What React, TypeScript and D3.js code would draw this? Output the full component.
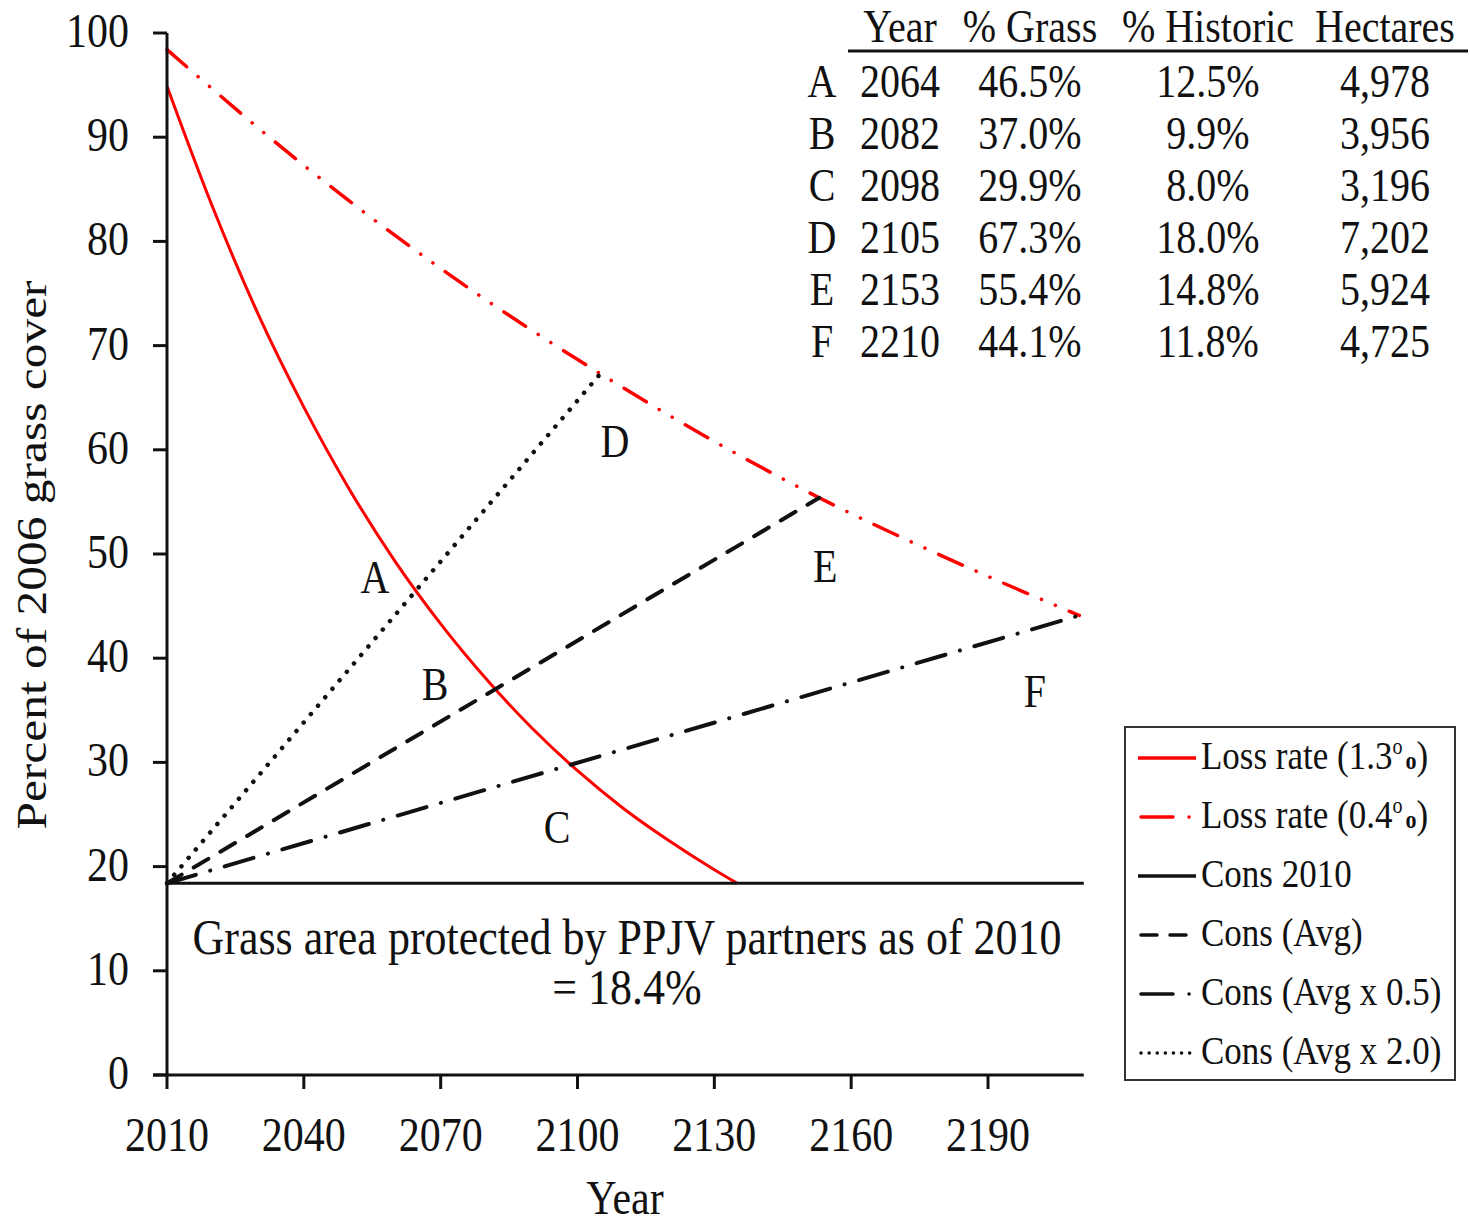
import * as d3 from 'd3'

// axis ticks
const xTicks = [2010, 2040, 2070, 2100, 2130, 2160, 2190]
const yTicks = [0, 10, 20, 30, 40, 50, 60, 70, 80, 90, 100]

// loss rate 1.3% per year
const fastYears = [2010, 2020, 2030, 2040, 2050, 2060, 2070, 2080, 2090, 2100, 2110, 2120, 2130, 2135]
const fastValues = [94.9, 83.3, 73.0, 64.1, 56.2, 49.3, 43.3, 38.0, 33.3, 29.2, 25.6, 22.5, 19.7, 18.4]

// loss rate 0.4% per year
const slowYears = [2010, 2040, 2070, 2105, 2130, 2153, 2180, 2210]
const slowValues = [98.4, 87.3, 77.4, 67.3, 60.8, 55.4, 49.8, 44.1]

// conservation lines start at the 2010 protected share
const consStartYear = 2010
const consBase = 18.4
const consEndYear = 2211
const consNames = ['Cons (Avg x 2.0)', 'Cons (Avg)', 'Cons (Avg x 0.5)']
const consToYear = [2105, 2153, 2210]
const consToValue = [67.3, 55.4, 44.1]

// point letters (label anchor in data units)
const pointNames = ['A', 'B', 'C', 'D', 'E', 'F']
const pointLabelYear = [2055.6, 2068.8, 2095.5, 2108.2, 2154.3, 2200.3]
const pointLabelValue = [46.3, 36.0, 22.3, 59.3, 47.3, 35.3]

// table
const tableHeader = ['Year', '% Grass', '% Historic', 'Hectares']
const tableYear = ['2064', '2082', '2098', '2105', '2153', '2210']
const tableGrass = ['46.5%', '37.0%', '29.9%', '67.3%', '55.4%', '44.1%']
const tableHistoric = ['12.5%', '9.9%', '8.0%', '18.0%', '14.8%', '11.8%']
const tableHectares = ['4,978', '3,956', '3,196', '7,202', '5,924', '4,725']

const FONT = '"Liberation Serif", "Times New Roman", serif'
const SY = 1.15
const RED = '#ff0000'

const dashes: Record<string, string | undefined> = {
  solid: undefined,
  dashdotdot: '26,15,0.1,15,0.1,15',
  dashed: '17,14',
  dashdot: '30,15,0.1,15',
  dotted: '0.1,11',
}
const widths: Record<string, number> = {
  solid: 3,
  dashdotdot: 3.5,
  dashed: 4,
  dashdot: 4,
  dotted: 4.5,
}

function T({ x, y, size, anchor = 'middle', rotate = 0, children }: any) {
  return (
    <text
      transform={`translate(${x},${y}) scale(1,${SY})${rotate ? ` rotate(${rotate})` : ''}`}
      fontSize={size}
      textAnchor={anchor}
      fontFamily={FONT}
      fill="#111"
    >
      {children}
    </text>
  )
}

export default function App() {
  const x = d3.scaleLinear().domain([2010, 2211]).range([167, 1083.8])
  const y = d3.scaleLinear().domain([0, 100]).range([1075, 33])

  const line = d3
    .line<[number, number]>()
    .x(d => x(d[0]))
    .y(d => y(d[1]))
  const smooth = d3
    .line<[number, number]>()
    .x(d => x(d[0]))
    .y(d => y(d[1]))
    .curve(d3.curveMonotoneX)

  const fast = fastYears.map((yr, i) => [yr, fastValues[i]] as [number, number])
  const slow = slowYears.map((yr, i) => [yr, slowValues[i]] as [number, number])
  const consStyles = ['dotted', 'dashed', 'dashdot']

  const legend = [
    { color: RED, style: 'solid', label: 'Loss rate (1.3', pct: true },
    { color: RED, style: 'dashdotdot', label: 'Loss rate (0.4', pct: true },
    { color: '#111', style: 'solid', label: 'Cons 2010' },
    { color: '#111', style: 'dashed', label: 'Cons (Avg)' },
    { color: '#111', style: 'dashdot', label: 'Cons (Avg x 0.5)' },
    { color: '#111', style: 'dotted', label: 'Cons (Avg x 2.0)' },
  ]
  const legendDash: Record<string, string | undefined> = {
    solid: undefined,
    dashdotdot: '32,16,0.1,20',
    dashed: '16,13',
    dashdot: '32,16,0.1,20',
    dotted: '0.1,8',
  }

  const colX = [900, 1030, 1208, 1385]
  const rowY = (i: number) => 97 + i * 52

  return (
    <svg
      width={1470}
      height={1225}
      style={{ position: 'absolute', left: 0, top: 0, background: '#fff' }}
    >
      {/* data lines */}
      <path d={smooth(fast) ?? ''} fill="none" stroke={RED} strokeWidth={3} />
      <path
        d={smooth(slow) ?? ''}
        fill="none"
        stroke={RED}
        strokeWidth={widths.dashdotdot}
        strokeLinecap="round"
        strokeDasharray={dashes.dashdotdot}
      />
      <path
        d={line([[consStartYear, consBase], [consEndYear, consBase]]) ?? ''}
        fill="none"
        stroke="#111"
        strokeWidth={3}
      />
      {consNames.map((n, i) => (
        <path
          key={n}
          d={line([[consStartYear, consBase], [consToYear[i], consToValue[i]]]) ?? ''}
          fill="none"
          stroke="#111"
          strokeWidth={widths[consStyles[i]]}
          strokeLinecap="round"
          strokeDasharray={dashes[consStyles[i]]}
        />
      ))}

      {/* axes */}
      <line x1={x(2010)} x2={x(2010)} y1={y(100)} y2={y(0)} stroke="#111" strokeWidth={3} />
      <line x1={x(2010) - 14} x2={x(2211)} y1={y(0)} y2={y(0)} stroke="#111" strokeWidth={3} />
      {yTicks.map(t => (
        <g key={t}>
          <line x1={x(2010) - 14} x2={x(2010)} y1={y(t)} y2={y(t)} stroke="#111" strokeWidth={3} />
          <T x={129} y={y(t) + 14} size={42} anchor="end">
            {t}
          </T>
        </g>
      ))}
      {xTicks.map(t => (
        <g key={t}>
          <line x1={x(t)} x2={x(t)} y1={y(0)} y2={y(0) + 14} stroke="#111" strokeWidth={3} />
          <T x={x(t)} y={1151} size={42}>
            {t}
          </T>
        </g>
      ))}
      <T x={625} y={1214} size={42}>
        Year
      </T>
      <T x={46} y={555} size={43} rotate={-90}>
        Percent of 2006 grass cover
      </T>

      {/* annotation */}
      <T x={627} y={954} size={44}>
        Grass area protected by PPJV partners as of 2010
      </T>
      <T x={627} y={1004} size={44}>
        = 18.4%
      </T>

      {/* point letters */}
      {pointNames.map((n, i) => (
        <T key={n} x={x(pointLabelYear[i])} y={y(pointLabelValue[i])} size={40}>
          {n}
        </T>
      ))}

      {/* table */}
      {tableHeader.map((h, i) => (
        <T key={h} x={colX[i]} y={42} size={40}>
          {h}
        </T>
      ))}
      <line x1={848} x2={1468} y1={51} y2={51} stroke="#111" strokeWidth={3} />
      {pointNames.map((n, i) => (
        <g key={n}>
          <T x={822} y={rowY(i)} size={40}>
            {n}
          </T>
          <T x={colX[0]} y={rowY(i)} size={40}>
            {tableYear[i]}
          </T>
          <T x={colX[1]} y={rowY(i)} size={40}>
            {tableGrass[i]}
          </T>
          <T x={colX[2]} y={rowY(i)} size={40}>
            {tableHistoric[i]}
          </T>
          <T x={colX[3]} y={rowY(i)} size={40}>
            {tableHectares[i]}
          </T>
        </g>
      ))}

      {/* legend */}
      <rect x={1125} y={727} width={330} height={353} fill="#fff" stroke="#333" strokeWidth={2} />
      {legend.map((l, i) => {
        const cy = 758 + i * 59
        return (
          <g key={l.label + i}>
            <line
              x1={l.style === 'solid' ? 1138 : 1141}
              x2={l.style === 'solid' ? 1196 : 1194}
              y1={cy}
              y2={cy}
              stroke={l.color}
              strokeWidth={l.style === 'dotted' ? 3.5 : 3.5}
              strokeLinecap={l.style === 'solid' ? 'butt' : 'round'}
              strokeDasharray={legendDash[l.style]}
            />
            <T x={1201} y={cy + 11} size={35} anchor="start">
              {l.label}
              {l.pct ? (
                <>
                  <tspan fontSize={20} dy={-13}>
                    o
                  </tspan>
                  <tspan fontSize={22} fontWeight="bold" dy={13} dx={3}>
                    o
                  </tspan>
                  <tspan>)</tspan>
                </>
              ) : null}
            </T>
          </g>
        )
      })}
    </svg>
  )
}
